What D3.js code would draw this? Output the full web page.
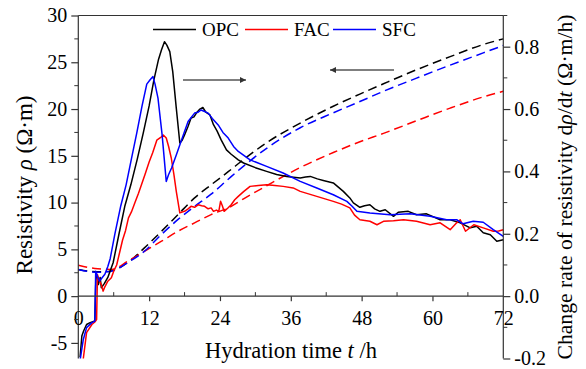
<!DOCTYPE html>
<html>
<head>
<meta charset="utf-8">
<script src="https://cdn.jsdelivr.net/npm/d3@7"></script>
<style>
  body { margin: 0; background: #fff; }
  text { font-family: "Liberation Serif", "Times New Roman", serif; fill: #000; }
</style>
</head>
<body>
<script>
// time (h) and change rate (right axis) for the solid curves
var opcRate = [[0.3,-0.196],[0.6,-0.128],[0.9,-0.112],[1.4,-0.091],[2.0,-0.085],[2.8,-0.08],[3.0,0.075],[3.2,0.064],[3.4,0.037],[3.7,0.06],[3.9,0.027],[4.4,0.04],[5.0,0.06],[5.9,0.107],[6.9,0.2],[7.9,0.29],[8.9,0.357],[10.0,0.44],[11.0,0.523],[12.0,0.61],[12.8,0.693],[13.6,0.76],[14.1,0.79],[14.6,0.816],[15.0,0.805],[15.5,0.784],[16.0,0.72],[16.6,0.603],[17.2,0.491],[17.6,0.5],[18.0,0.517],[18.6,0.545],[19.1,0.571],[19.6,0.575],[20.0,0.587],[20.6,0.6],[21.1,0.605],[21.6,0.59],[22.3,0.581],[22.9,0.55],[23.5,0.53],[24.2,0.501],[25.1,0.469],[25.9,0.455],[27.1,0.437],[28.0,0.427],[30.0,0.412],[31.9,0.4],[33.6,0.39],[35.3,0.384],[37.6,0.379],[38.5,0.382],[39.3,0.384],[40.5,0.376],[41.5,0.371],[43.2,0.363],[44.9,0.336],[46.0,0.315],[46.6,0.299],[47.7,0.285],[48.5,0.29],[49.4,0.293],[50.2,0.28],[51.1,0.272],[52.0,0.277],[53.4,0.256],[54.2,0.269],[55.9,0.272],[57.3,0.261],[59.0,0.264],[61.3,0.245],[63.0,0.245],[64.7,0.235],[66.4,0.219],[67.5,0.224],[68.6,0.203],[69.8,0.197],[70.9,0.176],[72,0.181]];
var facRate = [[0.85,-0.2],[1.4,-0.117],[2.3,-0.091],[2.8,-0.083],[3.1,-0.075],[3.25,0.069],[3.6,0.048],[3.9,0.037],[4.2,0.016],[4.5,0.03],[5.0,0.048],[5.6,0.059],[6.0,0.08],[6.5,0.1],[7.0,0.14],[7.5,0.18],[8.0,0.21],[8.5,0.251],[9.0,0.27],[9.6,0.3],[10.2,0.33],[10.7,0.357],[11.3,0.39],[12.0,0.43],[12.6,0.46],[13.3,0.5],[13.9,0.508],[14.4,0.517],[14.9,0.507],[15.3,0.48],[15.75,0.443],[16.2,0.39],[16.6,0.336],[17.2,0.267],[17.6,0.27],[18.0,0.272],[18.6,0.28],[19.1,0.288],[19.7,0.285],[20.3,0.293],[20.9,0.29],[21.4,0.288],[22.0,0.28],[22.5,0.283],[22.9,0.272],[23.4,0.276],[23.8,0.272],[24.1,0.304],[24.4,0.29],[24.7,0.272],[25.3,0.282],[25.9,0.293],[26.5,0.309],[27.1,0.32],[28.0,0.335],[29.1,0.352],[30.5,0.355],[31.9,0.357],[33.3,0.355],[34.7,0.352],[36.4,0.347],[37.6,0.336],[39.0,0.328],[40.4,0.32],[41.8,0.312],[43.2,0.304],[44.6,0.295],[46.0,0.283],[46.8,0.26],[47.7,0.245],[49.4,0.24],[50.6,0.229],[51.7,0.24],[53.4,0.242],[55.1,0.245],[57.3,0.24],[59.6,0.229],[61.3,0.235],[63.0,0.213],[64.1,0.235],[64.7,0.245],[65.6,0.208],[67.0,0.229],[68.6,0.219],[70.3,0.208],[71.2,0.209],[72,0.213]];
var sfcRate = [[0.35,-0.2],[0.85,-0.139],[1.4,-0.101],[2.3,-0.085],[2.8,-0.08],[2.95,0.08],[3.3,0.06],[3.6,0.048],[4.0,0.058],[4.5,0.07],[5.0,0.095],[5.4,0.12],[6.2,0.2],[7.2,0.29],[8.1,0.357],[9.0,0.44],[9.9,0.523],[10.8,0.61],[11.6,0.68],[12.2,0.695],[12.65,0.704],[13.0,0.68],[13.5,0.635],[14.2,0.517],[14.9,0.368],[15.3,0.39],[15.8,0.411],[16.6,0.453],[17.4,0.496],[18.6,0.56],[19.7,0.587],[20.3,0.59],[20.8,0.597],[21.4,0.592],[22.0,0.587],[22.7,0.57],[23.7,0.549],[24.5,0.525],[25.4,0.507],[26.3,0.48],[27.1,0.464],[29.1,0.437],[31.9,0.416],[34.7,0.395],[37.6,0.368],[40.4,0.347],[43.2,0.325],[45.5,0.304],[46.3,0.29],[47.2,0.272],[49.4,0.267],[52.8,0.261],[56.2,0.264],[59.6,0.256],[62.4,0.245],[64.1,0.245],[65.2,0.232],[66.9,0.24],[68.6,0.237],[70.3,0.213],[72,0.192]];

// time (h) and resistivity (left axis) for the dashed curves
var opcRes = [[0,2.85],[2,2.65],[4,2.6],[5.6,2.7],[8.4,3.6],[11.2,5.16],[14.1,6.94],[16.9,8.72],[19.7,10.5],[22.5,11.9],[25.4,13.3],[28,14.6],[31.9,16.4],[37.6,18.5],[43.2,20.3],[47.7,21.6],[51.7,22.7],[57.3,24.2],[63,25.6],[68.6,26.9],[72,27.5]];
var facRes = [[0,3.3],[2.8,2.96],[5.6,2.85],[8.4,3.74],[11.2,4.8],[14.1,5.87],[16.9,6.94],[19.7,7.83],[22.5,8.72],[25.4,9.43],[28,10.4],[31.9,11.8],[37.6,13.75],[43.2,15.35],[47.7,16.5],[51.7,17.4],[57.3,18.75],[63,20.1],[68.6,21.3],[72,21.9]];
var sfcRes = [[0,2.85],[1.5,2.65],[3.3,2.55],[5.6,2.67],[8.4,3.6],[11.2,4.8],[14.1,6.6],[16.9,8.2],[19.7,9.6],[22.5,10.9],[25.4,12.5],[28,13.9],[31.9,15.8],[37.6,18.0],[43.2,19.6],[47.7,20.8],[51.7,21.9],[57.3,23.3],[63,24.7],[68.6,26.0],[72,26.8]];

var seriesNames = ['OPC', 'FAC', 'SFC'];
var seriesColors = ['#000000', '#ff0000', '#0000ff'];

var xTicks = [0, 12, 24, 36, 48, 60, 72];
var xMinor = [6, 18, 30, 42, 54, 66];
var leftTicks = [-5, 0, 5, 10, 15, 20, 25, 30];
var leftMinor = [-2.5, 2.5, 7.5, 12.5, 17.5, 22.5, 27.5];
var rightTicks = [-0.2, 0, 0.2, 0.4, 0.6, 0.8];
var rightMinor = [-0.1, 0.1, 0.3, 0.5, 0.7, 0.9];

var W = 586, H = 369;
var X0 = 78.3, X1 = 503.3, YTOP = 15.5, YBOT = 358.5;
var FONT = '"Liberation Serif", "Times New Roman", serif';

var svg = d3.select('body').append('svg')
	.attr('width', W).attr('height', H);

var x = d3.scaleLinear().domain([0, 72]).range([X0, X1]);
var yL = d3.scaleLinear().domain([-6.667, 30]).range([YBOT, YTOP]);
var yR = d3.scaleLinear().domain([-0.2, 0.9]).range([YBOT, YTOP]);

// ---- curves ----
var dashLine = d3.line().x(function(d){ return x(d[0]); }).y(function(d){ return yL(d[1]); }).curve(d3.curveMonotoneX);
var solidLine = d3.line().x(function(d){ return x(d[0]); }).y(function(d){ return yR(d[1]); });

var resSets = [opcRes, facRes, sfcRes];
var rateSets = [opcRate, facRate, sfcRate];

resSets.forEach(function(s, i) {
	svg.append('path').datum(s)
		.attr('d', dashLine)
		.attr('fill', 'none')
		.attr('stroke', seriesColors[i])
		.attr('stroke-width', 1.5)
		.attr('stroke-dasharray', '9,5');
});
rateSets.forEach(function(s, i) {
	svg.append('path').datum(s)
		.attr('d', solidLine)
		.attr('fill', 'none')
		.attr('stroke', seriesColors[i])
		.attr('stroke-width', 1.5)
		.attr('stroke-linejoin', 'round');
});

// ---- frame / axes ----
var ax = svg.append('g').attr('stroke', '#333').attr('stroke-width', 1.2);
ax.append('line').attr('x1', X0).attr('x2', X1).attr('y1', YTOP).attr('y2', YTOP);
ax.append('line').attr('x1', X0).attr('x2', X0).attr('y1', YTOP).attr('y2', YBOT);
ax.append('line').attr('x1', X1).attr('x2', X1).attr('y1', YTOP).attr('y2', YBOT);

// x axis sits on zero
var xAxisG = svg.append('g').attr('transform', 'translate(0,' + yL(0) + ')');
xAxisG.call(d3.axisBottom(x).tickValues(xTicks).tickSize(5).tickFormat(d3.format('d')));
xAxisG.selectAll('.tick').filter(function(d){ return d === 0 || d === 72; }).select('line').remove();
xMinor.forEach(function(t) {
	xAxisG.append('line').attr('x1', x(t)).attr('x2', x(t)).attr('y1', 0).attr('y2', -4).attr('stroke', '#333');
});

var leftG = svg.append('g').attr('transform', 'translate(' + X0 + ',0)');
leftG.call(d3.axisLeft(yL).tickValues(leftTicks).tickSize(7).tickFormat(d3.format('d')));
leftMinor.forEach(function(v) {
	leftG.append('line').attr('x1', 0).attr('x2', -4).attr('y1', yL(v)).attr('y2', yL(v)).attr('stroke', '#333');
});

var rightG = svg.append('g').attr('transform', 'translate(' + X1 + ',0)');
rightG.call(d3.axisRight(yR).tickValues(rightTicks).tickSize(7).tickFormat(d3.format('.1f')));
rightMinor.forEach(function(v) {
	rightG.append('line').attr('x1', 0).attr('x2', 4).attr('y1', yR(v)).attr('y2', yR(v)).attr('stroke', '#333');
});

[xAxisG, leftG, rightG].forEach(function(g) {
	g.select('.domain').remove();
	g.selectAll('.tick line').attr('stroke', '#333').attr('stroke-width', 1.2);
	g.selectAll('.tick text')
		.style('font-family', FONT)
		.style('font-size', '20px')
		.attr('fill', '#000');
});
xAxisG.append('line').attr('x1', X0).attr('x2', X1).attr('y1', 0).attr('y2', 0).attr('stroke', '#333').attr('stroke-width', 1.2);
xAxisG.selectAll('.tick text').attr('y', 15);
leftG.selectAll('.tick text').attr('x', -11).text(function(d){ return d < 0 ? '-' + Math.abs(d) : d; });
rightG.selectAll('.tick text').attr('x', 11).text(function(d){ return d < 0 ? '-' + Math.abs(d).toFixed(1) : d.toFixed(1); });

// ---- axis titles ----
var xt = svg.append('text')
	.attr('x', 291).attr('y', 358)
	.attr('text-anchor', 'middle')
	.style('font-size', '22.5px');
xt.append('tspan').text('Hydration time ');
xt.append('tspan').style('font-style', 'italic').text('t');
xt.append('tspan').text(' /h');

var lt = svg.append('text')
	.attr('transform', 'translate(32,185) rotate(-90)')
	.attr('text-anchor', 'middle')
	.style('font-size', '23px');
lt.append('tspan').text('Resistivity ');
lt.append('tspan').style('font-style', 'italic').text('ρ');
lt.append('tspan').text(' (Ω·m)');

var rt = svg.append('text')
	.attr('transform', 'translate(572,187) rotate(-90)')
	.attr('text-anchor', 'middle')
	.style('font-size', '21.7px');
rt.append('tspan').text('Change rate of resistivity d');
rt.append('tspan').style('font-style', 'italic').text('ρ');
rt.append('tspan').text('/d');
rt.append('tspan').style('font-style', 'italic').text('t');
rt.append('tspan').text(' (Ω·m/h)');

// ---- legend ----
var legendX = [153, 245, 333];
seriesNames.forEach(function(name, i) {
	svg.append('line')
		.attr('x1', legendX[i]).attr('x2', legendX[i] + 43)
		.attr('y1', 29.5).attr('y2', 29.5)
		.attr('stroke', seriesColors[i]).attr('stroke-width', 1.5);
	svg.append('text')
		.attr('x', legendX[i] + 49).attr('y', 36)
		.style('font-size', '19px')
		.text(name);
});

// ---- arrows ----
svg.append('defs').append('marker')
	.attr('id', 'head')
	.attr('viewBox', '0 0 10 10')
	.attr('refX', 10).attr('refY', 5)
	.attr('markerWidth', 9).attr('markerHeight', 6)
	.attr('markerUnits', 'userSpaceOnUse')
	.attr('orient', 'auto')
	.append('path').attr('d', 'M0,0 L10,5 L0,10 z').attr('fill', '#333');

svg.append('line').attr('x1', 183).attr('x2', 246).attr('y1', 80).attr('y2', 80)
	.attr('stroke', '#555').attr('stroke-width', 1.3).attr('marker-end', 'url(#head)');
svg.append('line').attr('x1', 394).attr('x2', 330).attr('y1', 70).attr('y2', 70)
	.attr('stroke', '#555').attr('stroke-width', 1.3).attr('marker-end', 'url(#head)');
</script>
</body>
</html>
